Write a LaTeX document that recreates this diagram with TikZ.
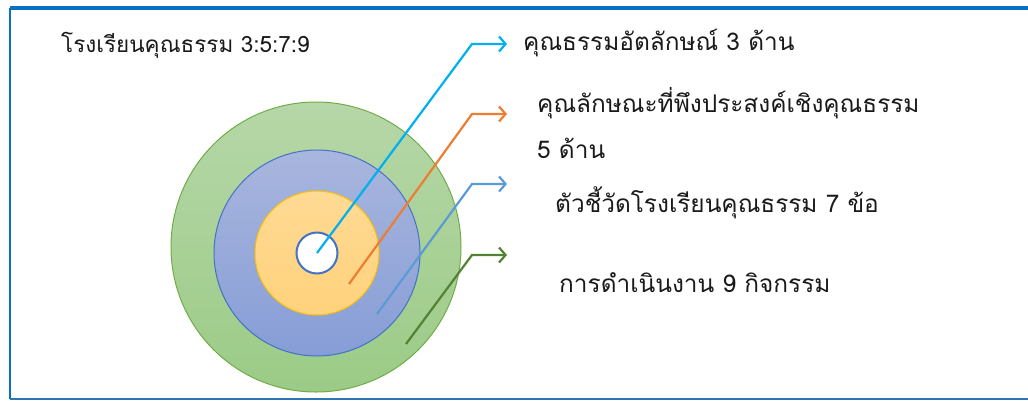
\documentclass[tikz,border=0pt]{standalone}
\usepackage{fontspec}
\newfontfamily\thaifont[Script=Thai]{Loma}
\usetikzlibrary{arrows.meta}
\definecolor{framec}{HTML}{0A70C4}
\definecolor{frameb}{HTML}{2E75B6}
\definecolor{gtop}{HTML}{B6D7A8}
\definecolor{gbot}{HTML}{9BCB86}
\definecolor{gbrd}{HTML}{70AD47}
\definecolor{btop}{HTML}{A9B6DE}
\definecolor{bbot}{HTML}{869DD6}
\definecolor{bbrd}{HTML}{4472C4}
\definecolor{otop}{HTML}{FFDA94}
\definecolor{obot}{HTML}{FFD27C}
\definecolor{obrd}{HTML}{FFC000}
\definecolor{lcyan}{HTML}{00B0F0}
\definecolor{lorange}{HTML}{ED7D31}
\definecolor{lblue}{HTML}{5B9BD5}
\definecolor{lgreen}{HTML}{548235}
\definecolor{txt}{HTML}{1A1A1A}
\begin{document}
\begin{tikzpicture}[x=1pt,y=-1pt,
  ring/.style={circle,inner sep=0pt,line width=1pt},
  conn/.style={line width=2.2pt,-{Straight Barb[length=6.5pt,width=15pt]}},
  lbl/.style={anchor=west,inner sep=0pt,text=txt,font=\thaifont\fontsize{24.4}{28}\selectfont},
]
\useasboundingbox (0,0) rectangle (1028,400);
\fill[white] (0,0) rectangle (1028,400);
% frame
\coordinate (ftl) at (10,8);
\coordinate (ftr) at (1028,8);
\coordinate (fbl) at (10,399);
\coordinate (fbr) at (1028,399);
\draw[framec,line width=4pt] (ftl) -- (ftr);
\draw[framec,line width=2.5pt] (ftl) -- (fbl);
\draw[frameb,line width=1.5pt] (fbl) -- (fbr);
% rings
\node[ring,draw=gbrd,top color=gtop,bottom color=gbot,minimum size=290pt] (r9) at (316,247) {};
\node[ring,draw=bbrd,top color=btop,bottom color=bbot,minimum size=206pt] (r7) at (317,253) {};
\node[ring,draw=obrd,top color=otop,bottom color=obot,minimum size=124pt] (r5) at (317,253) {};
\node[ring,draw=bbrd,fill=white,line width=2pt,minimum size=41pt] (r3) at (317,253) {};
% title
\node[lbl,font=\thaifont\fontsize{22.5}{26}\selectfont] (title) at (61,45) {โรงเรียนคุณธรรม 3:5:7:9};
% labels
\node[lbl] (t3) at (523,43) {คุณธรรมอัตลักษณ์ 3 ด้าน};
\node[lbl] (t5a) at (537,103) {คุณลักษณะที่พึงประสงค์เชิงคุณธรรม};
\node[lbl] (t5b) at (537,148) {5 ด้าน};
\node[lbl] (t7) at (555,203) {ตัวชี้วัดโรงเรียนคุณธรรม 7 ข้อ};
\node[lbl] (t9) at (559,283) {การดำเนินงาน 9 กิจกรรม};
% connectors
\coordinate (s3) at (r3.center);
\coordinate (e3) at (472,44);
\coordinate (a3) at (507,44);
\coordinate (s5) at (349,284);
\coordinate (e5) at (472,114);
\coordinate (a5) at (507,114);
\coordinate (s7) at (377,314);
\coordinate (e7) at (472,184);
\coordinate (a7) at (507,184);
\coordinate (s9) at (406,344);
\coordinate (e9) at (472,255);
\coordinate (a9) at (507,255);
\draw[conn,lcyan] (s3) -- (e3) -- (a3);
\draw[conn,lorange] (s5) -- (e5) -- (a5);
\draw[conn,lblue] (s7) -- (e7) -- (a7);
\draw[conn,lgreen] (s9) -- (e9) -- (a9);
\end{tikzpicture}
\end{document}
